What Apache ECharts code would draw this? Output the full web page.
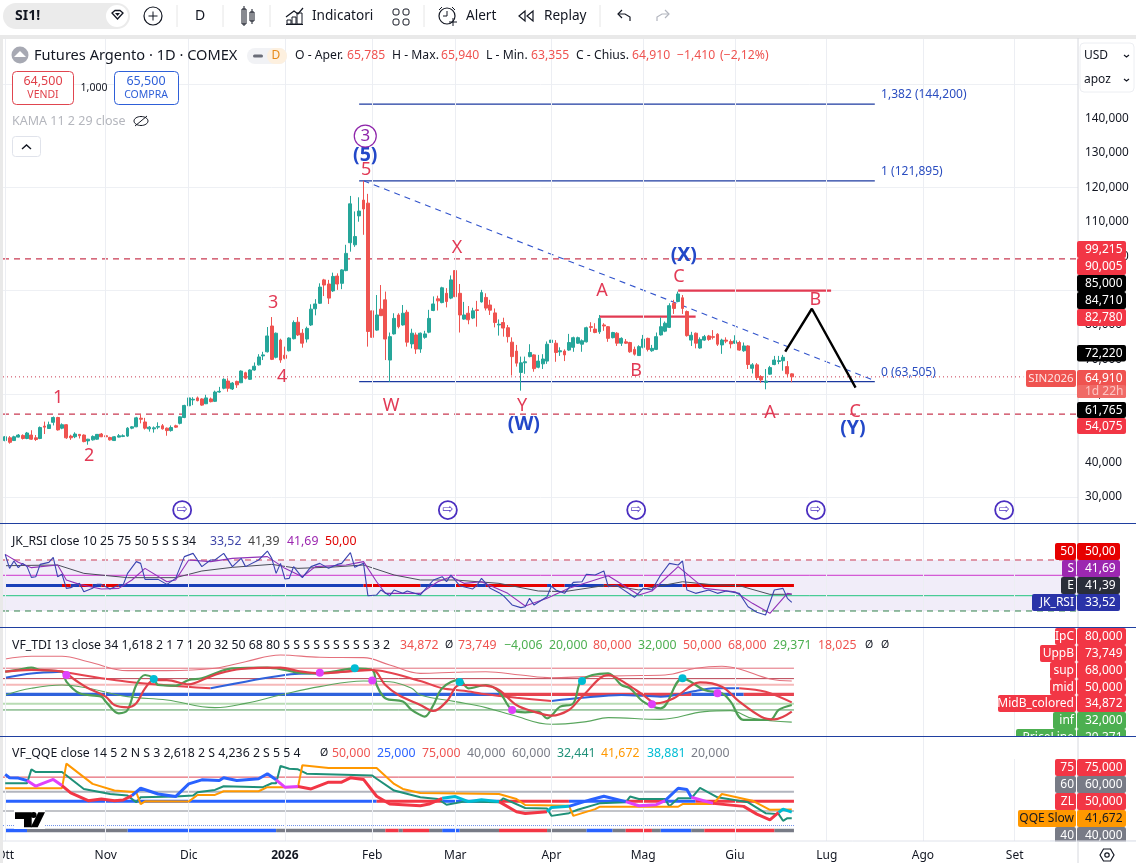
<!DOCTYPE html>
<html><head><meta charset="utf-8">
<style>html,body{margin:0;padding:0;background:#fff}#c{width:1136px;height:863px}</style>
<script src="https://cdn.jsdelivr.net/npm/echarts@6/dist/echarts.min.js"></script>
</head><body><div id="c"></div>
<script>
// ---------- DATA (Futures Argento, price in USD; rows are open, close, low, high) ----------
const candles = [
[46.4,47.5,46.2,47.7],[47.2,45.9,45.5,47.7],[46.4,47.5,46.3,47.8],[47.4,48.0,47.3,48.3],[47.9,47.0,46.7,48.2],[47.0,48.6,46.8,48.9],[48.0,46.8,46.6,49.4],[47.2,46.7,46.3,48.0],[47.0,50.2,46.8,50.5],[50.6,50.3,48.3,51.9],
[49.9,51.0,49.8,51.9],[51.7,53.1,50.8,53.4],[53.1,49.5,49.3,53.3],[50.0,51.0,49.7,51.4],[51.0,47.2,46.9,51.2],[47.7,47.2,46.6,48.1],[47.5,48.3,47.1,48.8],[48.2,47.8,47.0,48.3],[48.0,46.1,45.9,48.2],[46.3,46.8,45.2,46.9],
[46.6,47.6,46.4,47.9],[46.8,48.2,46.6,48.3],[48.3,47.5,47.4,48.6],[47.8,47.5,47.3,48.0],[47.3,46.6,46.4,47.5],[46.4,47.5,46.3,47.7],[47.4,47.8,47.3,48.3],[47.6,47.8,47.4,48.2],[47.7,50.0,47.5,50.3],[50.0,50.4,49.7,50.6],
[50.4,53.0,50.3,53.3],[52.9,52.6,51.4,54.0],[51.8,50.0,49.6,53.0],[49.8,50.3,49.0,50.6],[49.8,50.1,48.7,50.5],[50.3,50.5,49.7,51.7],[50.7,49.8,49.6,51.2],[50.0,49.3,47.8,50.2],[49.3,50.2,49.0,50.8],[50.7,50.3,50.1,51.0],
[51.4,53.3,51.1,53.5],[53.1,56.6,52.9,56.8],[56.5,58.8,56.3,59.0],[58.2,58.4,56.7,59.0],[58.8,58.0,57.8,59.2],[58.5,56.7,56.5,58.7],[57.1,58.8,57.0,59.7],[58.5,57.7,57.5,58.9],[57.8,60.5,57.6,60.9],[60.5,60.7,60.3,62.0],
[61.6,64.2,61.3,64.5],[63.7,61.6,60.6,64.5],[61.4,63.1,61.1,63.4],[63.6,62.6,61.7,63.8],[63.2,66.6,63.1,66.8],[66.1,64.5,64.2,66.4],[64.2,66.9,64.0,67.1],[66.9,68.0,66.7,69.1],[68.4,70.7,68.2,71.5],[71.0,71.3,69.8,72.2],
[72.2,76.8,72.0,79.4],[79.7,70.0,69.8,82.3],[70.6,77.6,70.3,77.8],[75.6,69.8,69.0,76.0],[71.2,70.3,70.0,73.7],[72.5,76.2,72.3,76.4],[76.0,80.7,75.8,81.3],[80.8,77.1,76.8,82.3],[77.6,74.7,73.4,78.8],[75.9,79.0,74.9,79.5],
[80.0,84.6,79.7,86.0],[84.7,86.1,82.8,87.5],[86.3,91.0,86.1,92.1],[93.1,91.6,88.4,93.4],[91.9,87.8,86.1,93.1],[89.9,94.1,89.6,95.2],[94.2,91.9,90.2,95.0],[92.1,96.0,90.4,96.2],[95.8,100.8,95.6,103.3],[103.9,115.2,101.3,117.5],
[103.3,105.7,102.7,113.0],[111.7,113.1,110.0,117.1],[116.3,113.7,106.2,121.9],[115.4,78.1,73.7,118.1],[84.1,76.4,70.8,87.5],[78.5,82.9,78.3,88.7],[84.6,82.7,82.6,91.6],[87.3,75.9,69.8,89.7],[69.8,76.6,63.5,77.8],[77.4,81.9,77.2,83.4],
[82.9,79.5,79.0,83.4],[80.0,83.4,79.8,85.8],[83.7,75.0,73.7,84.4],[74.5,77.6,73.2,78.9],[77.1,73.0,71.6,77.8],[73.0,77.6,71.9,77.8],[76.4,77.4,76.0,78.3],[77.9,81.9,77.6,84.4],[84.2,86.1,84.0,88.3],[87.6,87.0,84.2,88.5],
[86.5,90.8,86.3,91.1],[89.2,86.8,85.1,90.7],[87.8,93.1,87.5,94.4],[95.8,88.2,86.5,96.8],[89.2,82.9,77.8,91.9],[81.7,82.9,81.5,86.7],[83.4,81.5,80.2,85.5],[82.0,84.1,81.7,85.0],[84.4,84.2,79.5,87.0],[86.7,89.4,86.5,90.2],
[88.0,84.9,84.2,89.2],[85.8,84.3,82.9,87.3],[83.5,80.7,79.3,84.8],[80.0,80.2,76.9,81.6],[80.7,79.1,76.6,82.1],[79.2,76.6,74.9,80.0],[75.0,70.8,65.3,76.4],[72.4,68.9,67.9,74.2],[66.2,69.0,60.9,70.8],[69.0,69.3,65.8,70.8],
[70.8,72.0,70.6,74.4],[71.3,67.3,66.4,71.5],[67.7,69.5,67.4,71.3],[68.7,70.1,67.2,71.5],[69.5,74.4,68.7,75.2],[74.9,75.6,73.5,76.0],[74.7,72.0,69.3,75.6],[72.2,72.5,71.0,73.5],[72.4,71.3,69.5,72.9],[72.7,74.9,72.5,77.4],
[73.5,76.3,72.2,76.6],[74.7,76.3,74.5,76.6],[74.4,75.4,72.2,75.8],[75.1,79.2,74.9,79.5],[79.5,79.3,78.0,80.8],[78.8,77.8,77.6,80.5],[78.0,81.9,77.4,82.9],[80.0,79.7,78.3,80.5],[79.5,76.1,75.1,79.7],[76.3,77.8,76.1,78.0],
[77.6,74.7,73.9,77.9],[74.7,76.1,73.9,76.4],[75.1,74.7,74.5,75.9],[74.9,72.2,71.9,75.1],[72.9,71.5,71.1,73.7],[71.1,73.7,71.0,74.1],[73.5,75.9,73.2,77.1],[76.1,72.9,72.3,76.3],[72.5,73.2,72.2,74.2],[72.9,76.6,72.7,77.8],
[77.1,79.5,76.9,82.2],[78.2,80.5,77.9,81.0],[79.3,85.6,79.1,86.3],[86.3,84.8,83.2,87.3],[86.8,89.0,86.6,89.7],[87.9,84.8,83.2,88.7],[83.9,76.9,76.6,84.2],[75.6,77.0,73.9,78.0],[77.6,74.7,73.2,77.8],[73.3,75.8,73.1,76.4],
[75.6,76.6,75.4,77.1],[76.8,75.8,75.4,77.1],[76.6,76.4,75.8,78.5],[77.3,74.4,73.9,77.6],[74.2,75.6,71.6,76.0],[75.6,75.3,74.7,76.4],[75.2,74.5,73.2,75.8],[74.7,75.4,74.5,77.0],[74.9,72.7,72.5,75.4],[72.5,73.9,72.2,74.9],
[73.9,68.5,67.2,74.1],[67.4,68.4,65.9,68.9],[68.4,64.7,64.0,68.9],[65.0,64.0,63.2,65.4],[63.3,63.7,61.3,67.2],[65.7,67.6,65.5,68.1],[68.5,69.8,68.3,71.0],[69.4,69.6,68.6,71.0],[69.6,70.6,66.7,71.3],[67.9,65.8,64.8,69.5],
[65.785,64.91,63.355,65.94]];
const barSlots = 246;
const monthIndex = [0,23,42,64,84,103,125,146,167,188,210,231];
const monthNames = ['Ott','Nov','Dic','2026','Feb','Mar','Apr','Mag','Giu','Lug','Ago','Set'];
const priceTicks = [30,40,50,60,70,80,90,100,110,120,130,140];

const fib1382 = [[81,144.2],[199,144.2]];
const fib1 = [[81,121.895],[199,121.895]];
const fib0 = [[81,63.505],[199,63.505]];
const trendDashed = [[82,121.9],[199,63.8]];
const redLineA = [[136,82.4],[158,82.4]];
const redLineC = [[154,90.0],[189,90.0]];
const projection = [[178.5,72.22],[184.6,84.71],[194.6,61.765]];
const dashedLevels = [99.215,54.075];
const lastPrice = 64.91;
const redWaves = [[12.1,58.8,'1'],[19.2,41.9,'2'],[61.3,86.4,'3'],[63.4,64.9,'4'],[82.6,125.1,'5'],[88.3,56.5,'W'],[103.4,102.4,'X'],[118.3,56.5,'Y'],[136.6,89.9,'A'],[144.4,66.6,'B'],[154.2,94,'C'],[185.4,87.3,'B'],[175,54.4,'A'],[194.5,54.7,'C']];
const blueWaves = [[82.4,129.4,'(5)'],[118.7,51.2,'(W)'],[155.3,100.3,'(X)'],[194,50,'(Y)']];
const purpleWave = [[82.4,134.9,'3']];
const fibLabels = [[199.3,147,'1,382 (144,200)'],[199.3,124.5,'1 (121,895)'],[199.3,66.1,'0 (63,505)']];
const eventMarks = [[40.5,26.2],[101.3,26.2],[144.4,26.2],[185.5,26.2],[228.6,26.2]];

const rsiBlue = [[0,80.5],[1,66.8],[2,74],[3,67.5],[4,71.7],[5,68.5],[6,58],[7,58.6],[8,70.7],[10,72.7],[11,77.6],[12,58.6],[13,61],[14,47.2],[15,47.9],[17,52.1],[18,43.9],[20,47.2],[21,51.1],[22,51.1],[24,46.6],[26,50.5],[27,50.5],[28,61.9],[30,73.4],[31,71.7],[32,56],[35,56],[37,51.1],[39,57],[41,78.3],[43,81.5],[45,68.5],[47,75],[48,75],[50,81.5],[52,68.5],[54,76.6],[55,68.5],[58,75],[60,83.8],[61,76.6],[62,61.9],[63,71.7],[64,56.4],[65,57],[66,68.5],[68,57.7],[70,68.5],[72,71.7],[74,66.8],[76,70.7],[77,71.7],[79,82.2],[80,67.8],[82,71.7],[83,40],[85,40.7],[86,45.6],[88,40],[89,45.6],[91,42.3],[92,44.6],[95,40.7],[96,45.6],[98,55.4],[100,58.6],[101,53.7],[102,60.3],[104,49.8],[107,46.6],[108,50.5],[109,57],[111,47.2],[113,43],[114,40],[116,30.9],[118,28.3],[119,29.2],[120,37.4],[121,30.9],[124,39],[125,49.5],[126,45.6],[128,42.3],[130,53.1],[132,53.7],[133,61],[135,60.3],[137,64.2],[138,48.8],[140,50.5],[141,47.2],[144,38.4],[146,47.2],[148,45.6],[150,60.3],[152,71.7],[154,70.1],[155,74],[156,45.6],[158,42.3],[161,45.6],[163,42.3],[165,44.6],[168,42.3],[170,29.2],[172,23.7],[174,21.1],[176,45.6],[178,47.2],[179,37.4],[180,33.52]];
const rsiSignal = [[0,80.5],[3,72.7],[6,67.5],[12,70.1],[14,55.4],[17,51.1],[22,46.6],[26,47.2],[29,55.4],[32,66.8],[37,53.7],[39,55.4],[42,75],[47,73.4],[52,76.6],[60,78.3],[64,66.8],[68,58.6],[71,68.5],[78,70.1],[82,73.4],[85,53.7],[87,42.3],[95,42.3],[99,53.7],[102,58.6],[105,52.1],[109,53.7],[115,42.3],[119,29.9],[124,37.4],[129,47.2],[138,59.6],[145,40.7],[148,44.6],[154,68.5],[160,47.2],[167,43.9],[171,32.5],[175,22.7],[179,42.3],[180,41.69]];
const rsiEma = [[0,69.4],[12,70.1],[18,61.9],[28,57.7],[39,57.7],[45,64.2],[52,67.8],[61,70.7],[67,66.8],[75,68.1],[82,70.1],[89,60.3],[95,55.4],[103,55.4],[113,52.1],[122,44.6],[128,44],[138,50.5],[145,45.6],[155,53.7],[161,51.1],[168,49.8],[175,41.3],[180,41.39]];
const rsiMidBlue = [[0,13],[15,17],[20,22],[26,82],[95,103],[108,110],[124,125],[128,137],[145,146],[149,155]];
const rsiMidRed = [[13,15],[17,20],[22,26],[82,95],[103,108],[110,124],[125,128],[137,145],[146,149],[155,180.5]];

const tdiUpper = [[0,90.6],[6,93.7],[13,93.7],[19,87.5],[28,77.2],[37,77.2],[48,79.9],[55,87.5],[63,95.2],[72,92.5],[82,92.1],[88,83.7],[95,74.1],[103,75.3],[110,76],[118,72.2],[125,69.1],[133,70.3],[142,71.4],[151,72.2],[158,79.9],[164,82.2],[168,79.1],[175,67.6],[180,65.3]];
const tdiLower = [[0,49.2],[6,56.9],[13,60.7],[19,56.9],[28,47.3],[37,43.5],[48,34.7],[55,39.6],[63,49.2],[72,58.8],[82,65.3],[88,64.5],[93,56.9],[95,49.2],[103,41.6],[110,34.7],[116,26.2],[125,15.5],[133,18.6],[138,23.2],[150,21.2],[160,30.1],[166,31.2],[171,22.4],[180,18.025]];
const tdiGreen = [[0,76],[3,78],[6,80.6],[8,78],[13,76],[14,64.5],[17,51.1],[22,47.3],[23,41.6],[26,28.1],[28,31.9],[30,60.7],[32,72.2],[34,68.4],[35,60.7],[39,59.9],[42,66.5],[45,68.4],[49,76],[52,79.9],[60,80.6],[64,78],[67,74.9],[71,74.1],[75,76],[80,79.9],[84,78],[85,60.7],[87,45.4],[91,41.6],[93,32],[95,26.2],[96,24.3],[98,37.7],[100,56.9],[104,66.5],[106,56.9],[110,60.7],[113,53],[116,32],[119,29.3],[122,30.1],[124,22.4],[127,35.8],[130,39.6],[132,66.5],[138,74.1],[141,60.7],[143,56.9],[146,41.6],[150,33.9],[155,68.4],[160,54.9],[164,51.1],[166,41.6],[169,20.5],[175,20.5],[177,32],[180,37.7]];
const tdiRed = [[0,76],[6,78],[13,76],[16,66.4],[19,56.9],[23,47.3],[25,37.7],[28,35],[30,39.6],[32,56.9],[34,66.4],[37,66.4],[42,61.5],[46,68.4],[49,74.1],[54,79.1],[63,80.6],[67,76.8],[72,74.1],[79,76.8],[84,78],[87,60.7],[90,49.2],[95,37.7],[98,30.8],[101,41.6],[104,60.7],[110,59.9],[113,55],[117,37.7],[121,30.1],[125,25.5],[129,32],[132,47.3],[138,72.2],[142,62.6],[146,49.2],[149,39.6],[153,45.4],[159,63.8],[164,58.8],[168,41.6],[173,24.3],[176,21.2],[180,30.1]];
const tdiMidBlueA = [[0,69.1],[6,74],[13,76]];
const tdiMidRedA = [[13,76],[28,64.5],[47,56.9]];
const tdiMidBlueB = [[47,56.9],[64,72.2],[72,74.1]];
const tdiMidRedB = [[72,74.1],[78,76],[84,78],[95,65.3],[100,57],[105,54],[110,50],[117,46],[125,42.3]];
const tdiMidBlueC = [[125,42.3],[132,46],[141,49.2],[150,47.3],[158,53.8],[162,56.9],[168,56.9]];
const tdiMidRedC = [[168,56.9],[174,53],[180,40.8]];
const tdiDownDots = [[14,72.2],[72,74.9],[84,66],[116,32],[148,38.5],[163,51.1]];
const tdiUpDots = [[34,67.6],[80,79.9],[104,64.2],[132,65.3],[155,68.4]];
const tdiMidBarBlue = [[0,113],[157,169]];
const tdiMidBarRed = [[113,157],[169,180.5]];

const qqeBlue = [[[0,77.8],[1,74.3],[3,74],[5,71.5]],[[29,55.9],[31,63.5],[35,57.6],[39,54.9],[42,68],[45,72.2],[49,71.5],[50,74.3],[53,71.5],[58,73.3],[60,78.5],[62,72.2]],[[129,44.8],[134,51.7],[137,55.2],[142,49.7]],[[151,50.7],[154,63.5],[156,62.2],[157,54.2]]];
const qqeMagenta = [[[5,71.5],[7,65.6],[11,72.6],[13,66.3]],[[62,72.2],[64,64.6],[67,65.3]],[[142,49.7],[145,45.5],[149,46.5],[151,50.7]],[[157,54.2],[162,47.9]]];
const qqeRed = [[[13,66.3],[15,58.7],[19,50.7],[22,52.4],[25,50.7],[27,51.4],[29,55.9]],[[67,65.3],[70,62.8],[74,69.8],[77,69.8],[79,74.3],[82,72.6],[85,55.2],[88,47.2],[95,45.5],[97,47.2],[100,53.1]],[[113,49.7],[117,39.2],[119,37.5],[124,39.2]],[[162,47.9],[169,44.8],[172,36.8],[175,30.9],[177,38.5]]];
const qqeCyan = [[[100,53.1],[103,54.9],[106,49.7],[109,51.7],[113,49.7]],[[124,39.2],[125,43.7],[129,44.8]],[[177,38.5],[178,42],[180,38.881]]];
const qqeFast = [[0,68.7],[5,68.7],[6,83],[7,80.2],[13,80.2],[18,62.8],[24,57.6],[28,55.9],[30,49],[31,54.2],[39,54.9],[43,55.9],[44,59.4],[48,61.8],[50,65.6],[59,64.6],[61,68.7],[62,68.7],[63,86.5],[65,83.7],[67,83],[69,78.5],[84,76.7],[85,73.3],[89,61.1],[95,54.2],[99,52.4],[101,46.5],[105,49.7],[113,49],[114,53.1],[119,43.1],[124,42.7],[125,35],[129,37.8],[131,41.3],[136,47.9],[142,49],[143,54.9],[145,52.4],[151,52.4],[152,44.8],[154,53.1],[157,53.1],[159,63.9],[163,54.2],[170,49],[174,37.8],[177,36.8],[178,29.9],[179,32.6],[180,32.441]];
const qqeSlow = [[0,63.6],[13,63.6],[14,88.9],[18,75],[20,68],[25,61.1],[30,59.4],[31,47.2],[32,50],[42,49.7],[44,56.6],[48,56.6],[50,60.4],[58,60.4],[60,64.6],[67,64.6],[68,87.2],[74,84.4],[85,84.4],[89,68],[91,62.8],[95,58.7],[113,57.6],[117,52.4],[119,46.2],[129,45.5],[130,35],[135,42],[136,44.4],[154,44.4],[155,47.2],[162,47.2],[164,57.6],[171,50.7],[175,41.3],[180,41.672]];
const qqeMidBlue = [[0,85],[100,113],[129,142],[151,158]];
const qqeMidRed = [[85,100],[113,129],[142,151],[158,180.5]];
const qqeStripBlue = [[0,5],[28,62],[100,104],[133,139],[150,157]];
const qqeStripGrey = [[5,28],[62,87],[90,91],[97,100],[104,113],[124,133],[139,142],[148,150],[157,160],[176,180.5]];
const qqeStripRed = [[87,90],[91,97],[113,124],[142,148],[160,176]];

// ---------- STYLE ----------
const FONT = '"Noto Sans", sans-serif';
const UP='#26a69a', DOWN='#ef5350', TAGRED='#f23645', WAVE='#e23a55', WAVEBLUE='#2348c8', NAVY='#1f3fa0';
const lastIdx = 180.5;

function line(data, g, color, width, opts){
  return {type:'line', xAxisIndex:g+1, yAxisIndex:g, data, symbol:'none', silent:true,
    lineStyle:{color, width:width||1, type:(opts&&opts.dash)||'solid'}, z:(opts&&opts.z)||3,
    smooth:(opts&&opts.smooth)||false, clip:true, animation:false};
}
function hLine(v, g, from, to, color, width, dash, z){ return line([[from,v],[to,v]], g, color, width, {dash, z}); }
function spans(list, v, g, color, width, z){ return list.map(s=>line([[s[0],v],[s[1],v]], g, color, width, {z})); }
function monthGrid(g){
  return {type:'line', xAxisIndex:g+1, yAxisIndex:g, data:[], symbol:'none', silent:true, z:1,
    markLine:{silent:true, symbol:'none', animation:false, label:{show:false}, lineStyle:{color:'#eceef3', width:1, type:'solid'},
      data:monthIndex.map(i=>({xAxis:i}))}};
}
function textMarks(rows, color, size, weight, pos){
  return {type:'scatter', xAxisIndex:1, yAxisIndex:0, silent:true, symbolSize:0, z:6, itemStyle:{opacity:1},
    data:rows.map(r=>({value:[r[0],r[1]], name:r[2]})),
    label:{show:true, position:pos||'inside', formatter:'{b}', color, fontSize:size, fontWeight:weight||'normal', fontFamily:FONT}};
}

const series = [
  monthGrid(0),monthGrid(1),monthGrid(2),monthGrid(3),
  {type:'candlestick', xAxisIndex:0, yAxisIndex:0, data:candles, barWidth:3.4, silent:true, z:4,
   itemStyle:{color:UP,color0:DOWN,borderColor:UP,borderColor0:DOWN,borderWidth:1}},
  hLine(dashedLevels[0],0,-0.5,245.5,'#c93a52',1.1,[6,5]),
  hLine(dashedLevels[1],0,-0.5,245.5,'#c93a52',1.1,[6,5]),
  hLine(lastPrice,0,-0.5,233,'#c93a52',1,[1,3]),
  line(fib1382,0,'#1c3aa0',1.3), line(fib1,0,'#1c3aa0',1.3), line(fib0,0,'#1c3aa0',1.3),
  line(trendDashed,0,'#3355cc',1.1,{dash:[6,5]}),
  line(redLineA,0,'#e23a52',2.3), line(redLineC,0,'#e23a52',2.3),
  line(projection,0,'#000',2.4,{z:5}),
  textMarks(redWaves,WAVE,18), textMarks(blueWaves,WAVEBLUE,19.5,'bold'),
  {type:'scatter', xAxisIndex:1, yAxisIndex:0, silent:true, symbolSize:22, z:7,
   itemStyle:{color:'#fff',borderColor:'#8e24aa',borderWidth:1.2,opacity:1},
   data:purpleWave.map(r=>({value:[r[0],r[1]],name:r[2]})),
   label:{show:true,position:'inside',formatter:'{b}',color:'#8e24aa',fontSize:17,fontFamily:FONT}},
  textMarks(fibLabels,'#2a4dc0',12,'normal','right'),
  {type:'scatter', xAxisIndex:1, yAxisIndex:0, silent:true, symbolSize:18, z:7,
   itemStyle:{color:'#fff',borderColor:'#4b2fc0',borderWidth:1.8,opacity:1}, data:eventMarks,
   label:{show:true,position:'inside',formatter:'⇨',color:'#4b2fc0',fontSize:13,fontFamily:'"DejaVu Sans"'}},
  // RSI
  {type:'line', xAxisIndex:2, yAxisIndex:1, data:[], symbol:'none', silent:true, z:1,
   markArea:{silent:true, itemStyle:{color:'#f1edf9'}, data:[[{yAxis:25,xAxis:-0.5},{yAxis:75,xAxis:245.5}]]}},
  hLine(75,1,-0.5,245.5,'#c93a52',1,[6,5]),
  hLine(60,1,-0.5,245.5,'#cc33cc',1),
  hLine(40,1,-0.5,245.5,'#22c47f',1),
  hLine(25,1,-0.5,245.5,'#2f8048',1,[6,5]),
  ...spans(rsiMidBlue,50,1,'#1a3fb8',3,3), ...spans(rsiMidRed,50,1,'#e60000',3,3),
  line(rsiEma,1,'#4a4e5a',1,{z:4}), line(rsiSignal,1,'#9132b8',1.1,{z:5}), line(rsiBlue,1,'#3a44b0',1.1,{z:6}),
  // TDI
  hLine(80,2,-0.5,lastIdx,'#e26d7a',1), hLine(68,2,-0.5,lastIdx,'#b84050',1),
  hLine(61,2,-0.5,lastIdx,'#f6b9b9',2), hLine(39,2,-0.5,lastIdx,'#b9dcb4',2),
  hLine(32,2,-0.5,lastIdx,'#4d9a55',1),
  ...spans(tdiMidBarBlue,50,2,'#2f62dc',3.2,3), ...spans(tdiMidBarRed,50,2,'#e6434f',3.2,3),
  line(tdiUpper,2,'#e4707c',1.1,{smooth:0.4}), line(tdiLower,2,'#5aa65e',1.1,{smooth:0.4}),
  line(tdiMidBlueA,2,'#2f62dc',2,{smooth:0.3}), line(tdiMidRedA,2,'#e6434f',2,{smooth:0.3}),
  line(tdiMidBlueB,2,'#2f62dc',2,{smooth:0.3}), line(tdiMidRedB,2,'#e6434f',2,{smooth:0.3}),
  line(tdiMidBlueC,2,'#2f62dc',2,{smooth:0.3}), line(tdiMidRedC,2,'#e6434f',2,{smooth:0.3}),
  line(tdiGreen,2,'#4e9e55',2.2,{z:5,smooth:0.35}), line(tdiRed,2,'#e0404a',2.2,{z:6,smooth:0.35}),
  {type:'scatter',xAxisIndex:3,yAxisIndex:2,data:tdiDownDots,symbolSize:8,silent:true,z:8,itemStyle:{color:'#e040fb',opacity:1}},
  {type:'scatter',xAxisIndex:3,yAxisIndex:2,data:tdiUpDots,symbolSize:8,silent:true,z:8,itemStyle:{color:'#00bcd4',opacity:1}},
  // QQE
  hLine(75,3,-0.5,lastIdx,'#e04555',1), hLine(60,3,-0.5,lastIdx,'#b2b5be',2),
  hLine(40,3,-0.5,lastIdx,'#868993',1.2), hLine(25,3,-0.5,lastIdx,'#6d8ee8',1,[1,1]),
  ...spans(qqeMidBlue,50,3,'#2962ff',3,3), ...spans(qqeMidRed,50,3,'#f23645',3,3),
  ...spans(qqeStripBlue,20,3,'#2962ff',3.5), ...spans(qqeStripGrey,20,3,'#787b86',3.5), ...spans(qqeStripRed,20,3,'#f23645',3.5),
  line(qqeFast,3,'#1f9078',2,{z:5}), line(qqeSlow,3,'#ff9800',2,{z:5}),
  ...qqeBlue.map(p=>line(p,3,'#2962ff',3,{z:6})), ...qqeMagenta.map(p=>line(p,3,'#e040fb',3,{z:6})),
  ...qqeRed.map(p=>line(p,3,'#f23645',3,{z:6})), ...qqeCyan.map(p=>line(p,3,'#00bcd4',3,{z:6})),
];

// ---------- PAGE FURNITURE ----------
const G=[]; const Z=100;
function T(x,y,text,color,size,o){o=o||{};G.push({type:'text',z:Z,x,y,silent:true,style:{text,fill:color||'#131722',font:(o.w||'normal')+' '+(size||13)+'px '+FONT,textAlign:o.a||'left',textVerticalAlign:'middle',verticalAlign:'middle',align:o.a||'left'}});}
function R(x,y,w,h,fill,o){o=o||{};G.push({type:'rect',z:Z,silent:true,shape:{x,y,width:w,height:h,r:o.r||0},style:{fill:fill||'none',stroke:o.s||null,lineWidth:o.lw||1}});}
function L(x1,y1,x2,y2,c,w){G.push({type:'line',z:Z,silent:true,shape:{x1,y1,x2,y2},style:{stroke:c||'#131722',lineWidth:w||1}});}
function C(cx,cy,r,fill,s,lw){G.push({type:'circle',z:Z,silent:true,shape:{cx,cy,r},style:{fill:fill||'none',stroke:s||null,lineWidth:lw||1}});}
function P(points,fill,s,lw,closed){G.push({type:closed===false?'polyline':'polygon',z:Z,silent:true,shape:{points},style:{fill:fill||'none',stroke:s||null,lineWidth:lw||1}});}

// toolbar
R(3,3,127,26,'#ebebeb',{r:13}); C(117,16,11,'#fff');
P([[112,13],[115,10.5],[120,10.5],[123,13],[117.5,19]],'#fff','#131722',1.3); P([[115,13],[120,13],[117.5,16]],'#131722');
T(15,16,'SI1!','#131722',14,{w:'bold'});
C(153,16,9,'#fff','#131722',1.2); L(148.5,16,157.5,16); L(153,11.5,153,20.5);
L(177,5,177,27,'#e6e6e6'); T(200,16,'D','#131722',14,{a:'center'}); L(223,5,223,27,'#e6e6e6');
R(242,9,4,15,'#fff',{s:'#131722'}); L(244,6,244,26); R(250,12,4,9,'#fff',{s:'#131722'}); L(252,9,252,24);
L(270,5,270,27,'#e6e6e6');
P([[286,17],[294,11],[298,14],[303,8]],null,'#131722',1.2,false);
R(287,20,4,4,null,{s:'#131722'});R(292,17,4,7,null,{s:'#131722'});R(297,13,5,11,null,{s:'#131722'});L(286,24.5,303,24.5);
T(312,16,'Indicatori','#131722',13.6);
[[393,9],[403,9],[393,19],[403,19]].forEach(p=>R(p[0],p[1],6,6,null,{s:'#131722',r:2}));
L(424,5,424,27,'#e6e6e6');
C(447,16,8,null,'#131722',1.2); L(447,11,447,16); L(447,16,443,16); L(439,10,442,7); L(452,7,455,10); L(449,22,457,22); L(453,18,453,26);
T(466,16,'Alert','#131722',13.6);
P([[519,16],[525,11],[525,21]],null,'#131722',1.2); P([[527,16],[533,11],[533,21]],null,'#131722',1.2);
T(544,16,'Replay','#131722',13.6);
L(600,5,600,27,'#e6e6e6');
P([[622,10],[618,14],[622,18]],null,'#131722',1.2,false); P([[618,14],[625,14],[630,17],[630,21]],null,'#131722',1.2,false);
P([[665,10],[669,14],[665,18]],null,'#b2b5be',1.2,false); P([[669,14],[662,14],[657,17],[657,21]],null,'#b2b5be',1.2,false);
R(0,35,1136,4,'#e9e9e9'); R(0,35,3,828,'#e9e9e9');

// main legend
C(20,55,8.5,'#a7a9b3'); P([[14,57],[20,51],[26,57]],'#fff');
T(34,56,'Futures Argento · 1D · COMEX','#131722',14.6);
R(247,48,40,16,'#f1f2f5',{r:8}); R(267,48,20,16,'#fdf0df',{r:8}); R(253,54.5,10,3,'#6a6d78',{r:1.5}); T(276,56,'D','#e68a1a',12,{a:'center'});
const RED2='#ef5350';
[[295,'O - Aper.','#131722'],[347,'65,785',RED2],[392,'H - Max.','#131722'],[441,'65,940',RED2],[486,'L - Min.','#131722'],[531,'63,355',RED2],[576,'C - Chius.','#131722'],[632,'64,910',RED2],[677,'−1,410',RED2],[720,'(−2,12%)',RED2]].forEach(a=>T(a[0],56,a[1],a[2],12.2));
R(12.5,71.5,61,33,'#fff',{s:'#e0454f',r:4}); T(43,81,'64,500','#e0404a',12.5,{a:'center'}); T(43,95,'VENDI','#e0404a',10.5,{a:'center'});
T(94,88,'1,000','#131722',10.5,{a:'center'});
R(114.5,71.5,64,33,'#fff',{s:'#2e5fd8',r:4}); T(146,81,'65,500','#2e5fd8',12.5,{a:'center'}); T(146,95,'COMPRA','#2e5fd8',10.5,{a:'center'});
T(12,121,'KAMA 11 2 29 close','#b4b6bd',12.5);
G.push({type:'ellipse',z:Z,silent:true,shape:{cx:141,cy:121,rx:7,ry:4.5},style:{fill:'none',stroke:'#131722',lineWidth:1}}); L(135,126,147,116);
R(12.5,136.5,28,20,'#fff',{s:'#e0e3eb',r:3}); P([[22,149],[26.5,145],[31,149]],null,'#131722',1.4,false);

// logo
R(14,809,31,20,'#fff');
P([[15,812.3],[31.7,812.3],[31.7,827.3],[24,827.3],[24,819],[15,819]],'#000');
C(33.6,815,3,'#000');
P([[38.3,812.3],[45,812.3],[37.7,827.3],[30.7,827.3]],'#000');

// separators and right column
L(1078,38,1078,841,'#d6d8de');
R(1079,39,57,3,'#fff');
L(0,523.5,1136,523.5,NAVY,1); L(0,627.5,1136,627.5,NAVY,1); L(0,736.5,1136,736.5,NAVY,1); L(3,841,1136,841,'#e0e3eb');

// pane legends
const sub=12.3;
T(12,541,'JK_RSI close 10 25 75 50 5 S S 34','#131722',sub);
[[210,'33,52','#3f46a8'],[248,'41,39','#444'],[287,'41,69','#9c27b0'],[325,'50,00','#e00000']].forEach(a=>T(a[0],541,a[1],a[2],sub));
T(12,645,'VF_TDI 13 close 34 1,618 2 1 7 1 20 32 50 68 80 S S S S S S S S S 3 2','#131722',sub);
[[400,'34,872',RED2],[445,'Ø','#131722'],[458,'73,749',RED2],[504,'−4,006','#4caf50'],[549,'20,000','#4caf50'],[593,'80,000',RED2],[638,'32,000','#4caf50'],[683,'50,000',RED2],[728,'68,000',RED2],[773,'29,371','#4caf50'],[818,'18,025',RED2],[865,'Ø','#131722'],[881,'Ø','#131722']].forEach(a=>T(a[0],645,a[1],a[2],a[1]==='Ø'?10.5:sub));
T(12,753,'VF_QQE close 14 5 2 N S 3 2,618 2 S 4,236 2 S 5 5 4','#131722',sub);
[[320,'Ø','#131722'],[332,'50,000',RED2],[377,'25,000','#2962ff'],[422,'75,000',RED2],[467,'40,000','#787b86'],[512,'60,000','#787b86'],[557,'32,441','#1f9078'],[601,'41,672','#ff9800'],[647,'38,881','#00bcd4'],[691,'20,000','#787b86']].forEach(a=>T(a[0],753,a[1],a[2],a[1]==='Ø'?10.5:sub));

// price axis tags
const tagFont=12;
function tag(y,h,fill,txt,color,w){R(1077,y,w||49,h,fill,{r:2});T(1085,y+h/2+.5,txt,color||'#fff',tagFont);}
R(1080,43,54,49,'#fff',{s:'#eceef2',r:4});
T(1084,56,'USD','#131722',12); T(1084,80,'apoz','#131722',12);
P([[1124,55],[1126.5,57],[1129,55]],null,'#131722',1.2,false); P([[1124,79],[1126.5,81],[1129,79]],null,'#131722',1.2,false);
tag(241,17,TAGRED,'99,215'); tag(258,17,TAGRED,'90,005'); tag(275,17,'#000','85,000'); tag(292,17,'#000','84,710');
tag(309,17,TAGRED,'82,780'); tag(345,16.5,'#000','72,220');
R(1077,370,49,28,'#ef5350',{r:2}); R(1077,385,49,13,'#f06a66',{r:2}); T(1085,379,'64,910','#fff',tagFont); T(1085,392,'1d 22h','#fcc4c2',tagFont);
R(1026,370,50,17,'#ef5350',{r:2}); T(1051,378.5,'SIN2026','#fde3e2',11.5,{a:'center'});
tag(402,16,'#000','61,765'); tag(418,16,TAGRED,'54,075');

function subTag(y,h,fill,name,val,tagX,color,w){
  const c=color||'#fff';
  R(tagX,y,1076-tagX,h,fill,{r:2}); T(1074,y+h/2+.5,name,c,tagFont,{a:'right'});
  R(1077,y,w||49,h,fill,{r:2}); T(1085,y+h/2+.5,val,c,tagFont);
}
subTag(543,17,'#e60000','50','50,00',1055,null,43);
subTag(560,17,'#9c27b0','S','41,69',1062,null,43);
subTag(577,17,'#2a2e39','E','41,39',1061,null,43);
subTag(594,17,'#2a33a8','JK_RSI','33,52',1032,null,43);
subTag(628,17,TAGRED,'IpC','80,000',1055);
subTag(645,17,TAGRED,'UppB','73,749',1040);
subTag(662,17,TAGRED,'sup','68,000',1050);
subTag(679,16,TAGRED,'mid','50,000',1050);
subTag(695,17,TAGRED,'MidB_colored','34,872',998);
subTag(712,17,'#4caf50','inf','32,000',1053);
subTag(729,17,'#4caf50','PriceLine','29,371',1016);
R(1000,737,136,22,'#fff'); L(1000,736.5,1136,736.5,NAVY,1); L(1078,737,1078,759,'#d6d8de');
subTag(759,17,TAGRED,'75','75,000',1055);
subTag(776,17,'#787b86','60','60,000',1055);
subTag(793,17,TAGRED,'ZL','50,000',1055);
subTag(810,17,'#ff9800','QQE Slow','41,672',1018,'#131722');
subTag(827,17,'#787b86','40','40,000',1055);
R(1050,841.5,86,22,'#fff'); L(1050,841,1136,841,'#e0e3eb'); L(1078,841,1078,863,'#d6d8de');
P([[1100,855],[1103.5,849],[1110.5,849],[1114,855],[1110.5,861],[1103.5,861]],null,'#131722',1.2); C(1107,855,2.2,null,'#131722',1.2);

// ---------- CHART ----------
const grids=[{left:3,right:58,top:38,height:485,outerBoundsMode:'none'},{left:3,right:58,top:524,height:103,outerBoundsMode:'none'},{left:3,right:58,top:628,height:108,outerBoundsMode:'none'},{left:3,right:58,top:737,height:104,outerBoundsMode:'none'}];
const hiddenX=(g,extra)=>Object.assign({type:'value',gridIndex:g,min:-0.5,max:barSlots-0.5,show:false,splitLine:{show:false},axisLine:{show:false}},extra||{});
const option={
  animation:false, backgroundColor:'#fff', textStyle:{fontFamily:FONT},
  grid:grids,
  xAxis:[
    {type:'category',gridIndex:0,data:Array.from({length:barSlots},(_,i)=>i),boundaryGap:true,show:false},
    hiddenX(0),hiddenX(1),hiddenX(2),
    {type:'value',gridIndex:3,min:-0.5,max:barSlots-0.5,show:true,splitLine:{show:false},axisLine:{show:false},axisTick:{show:false},
     axisLabel:{show:true,customValues:monthIndex,alignMinLabel:'center',alignMaxLabel:'center',showMinLabel:true,showMaxLabel:true,hideOverlap:false,margin:9,color:'#131722',fontSize:12,fontFamily:FONT,
       formatter:v=>{const n=monthNames[monthIndex.indexOf(v)]||'';return n==='2026'?'{b|2026}':n;},
       rich:{b:{fontWeight:'bold',fontSize:12,color:'#131722',fontFamily:FONT}}}}
  ],
  yAxis:[
    {type:'value',gridIndex:0,position:'right',min:22.44,max:163.4,
     axisLine:{show:false},axisTick:{show:false},
     splitLine:{show:true,lineStyle:{color:'#eef0f4'}},
     axisLabel:{customValues:priceTicks,margin:7,color:'#131722',fontSize:11.8,fontFamily:FONT,formatter:v=>v.toFixed(3).replace('.',',')}},
    {type:'value',gridIndex:1,min:9.3,max:110.3,show:false,splitLine:{show:false}},
    {type:'value',gridIndex:2,min:2.07,max:126.2,show:false,splitLine:{show:false}},
    {type:'value',gridIndex:3,min:9.06,max:116.4,show:false,splitLine:{show:false}}
  ],
  series,
  graphic:{elements:G}
};
const chart=echarts.init(document.getElementById('c'));
chart.setOption(option);
</script>
</body></html>
